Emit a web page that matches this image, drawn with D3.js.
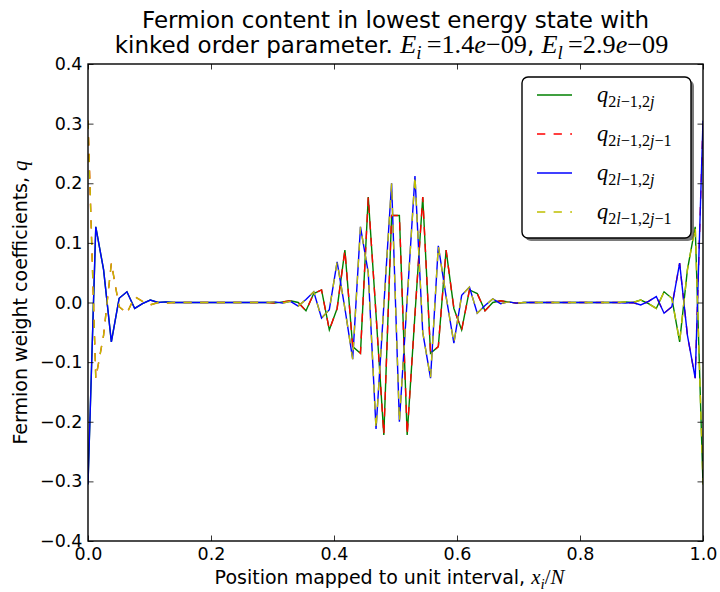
<!DOCTYPE html>
<html><head><meta charset="utf-8">
<script src="https://cdn.jsdelivr.net/npm/d3@7"></script>
<style>body{margin:0;background:#fff;} svg{display:block;}</style>
</head><body><svg id="c" width="720" height="592"></svg>
<script>
// ---------------- data ----------------
const xTicks = [0.0, 0.2, 0.4, 0.6, 0.8, 1.0];
const yTicks = [-0.4, -0.3, -0.2, -0.1, 0.0, 0.1, 0.2, 0.3, 0.4];
const nSites = 80;
const positions = d3.range(nSites).map(i => i / (nSites - 1));

// q_{2i-1,2j}  (green, solid)
const qI2j = [
  -0.305, 0.127, 0.055, -0.066, 0.007, 0.018, -0.010, -0.002, 0.004, 0.000,
   0.001, 0, 0, 0, 0, 0, 0, 0, 0, 0,
   0, 0, 0, 0, -0.001, 0.001, 0.003, 0.000, -0.014, 0.015,
   0.021, -0.046, -0.010, 0.088, -0.074, -0.085, 0.177, -0.020, -0.222, 0.146,
   0.146, -0.222, -0.020, 0.177, -0.085, -0.074, 0.088, -0.010, -0.046, 0.021,
   0.015, -0.014, 0.000, 0.003, 0.001, -0.001, 0, 0, 0, 0,
   0, 0, 0, 0, 0, 0, 0, 0, 0, 0.001,
   0.000, 0.004, -0.002, -0.010, 0.018, 0.007, -0.066, 0.055, 0.127, -0.305
];
// q_{2i-1,2j-1}  (red, dashed)
const qI2jm1 = [
   0.305, -0.127, -0.055, 0.066, -0.007, -0.018, 0.010, 0.002, -0.004, 0.000,
  -0.001, 0, 0, 0, 0, 0, 0, 0, 0, 0,
   0, 0, 0, 0, -0.001, 0.001, 0.003, 0.000, -0.014, 0.015,
   0.021, -0.046, -0.010, 0.088, -0.074, -0.085, 0.177, -0.020, -0.222, 0.146,
   0.146, -0.222, -0.020, 0.177, -0.085, -0.074, 0.088, -0.010, -0.046, 0.021,
   0.015, -0.014, 0.000, 0.003, 0.001, -0.001, 0, 0, 0, 0,
   0, 0, 0, 0, 0, 0, 0, 0, 0, -0.001,
   0.000, -0.004, 0.002, 0.010, -0.018, -0.007, 0.066, -0.055, -0.127, 0.305
];
// q_{2l-1,2j}  (blue, solid)
const qL2j = [
  -0.305, 0.127, 0.055, -0.066, 0.007, 0.018, -0.010, -0.002, 0.004, 0.000,
   0.001, 0, 0, 0, 0, 0, 0, 0, 0, 0,
   0, 0, 0, 0, 0.001, -0.001, 0.002, -0.006, 0.005, 0.018,
  -0.026, -0.012, 0.068, -0.010, -0.095, 0.127, 0.050, -0.212, -0.005, 0.200,
  -0.200, 0.005, 0.212, -0.050, -0.127, 0.095, 0.010, -0.068, 0.012, 0.026,
  -0.018, -0.005, 0.006, -0.002, 0.001, -0.001, 0, 0, 0, 0,
   0, 0, 0, 0, 0, 0, 0, 0, 0, -0.001,
   0.000, -0.004, 0.002, 0.010, -0.018, -0.007, 0.066, -0.055, -0.127, 0.305
];
// q_{2l-1,2j-1}  (yellow, dashed)
const qL2jm1 = [
   0.305, -0.127, -0.055, 0.066, -0.007, -0.018, 0.010, 0.002, -0.004, 0.000,
  -0.001, 0, 0, 0, 0, 0, 0, 0, 0, 0,
   0, 0, 0, 0, 0.001, -0.001, 0.002, -0.006, 0.005, 0.018,
  -0.026, -0.012, 0.068, -0.010, -0.095, 0.127, 0.050, -0.212, -0.005, 0.200,
  -0.200, 0.005, 0.212, -0.050, -0.127, 0.095, 0.010, -0.068, 0.012, 0.026,
  -0.018, -0.005, 0.006, -0.002, 0.001, -0.001, 0, 0, 0, 0,
   0, 0, 0, 0, 0, 0, 0, 0, 0, 0.001,
   0.000, 0.004, -0.002, -0.010, 0.018, 0.007, -0.066, 0.055, 0.127, -0.305
];

const seriesNames = ["q2i-1,2j", "q2i-1,2j-1", "q2l-1,2j", "q2l-1,2j-1"];
const seriesValues = [qI2j, qI2jm1, qL2j, qL2jm1];
const seriesColors = ["#008000", "#ff0000", "#0000ff", "#bfbf00"];
const seriesDashed = [false, true, false, true];
const legendLabels = [
  [{t:"q",i:1},{t:"2",s:1},{t:"i",i:1,s:1},{t:"\u2212",s:1},{t:"1,2",s:1},{t:"j",i:1,s:1}],
  [{t:"q",i:1},{t:"2",s:1},{t:"i",i:1,s:1},{t:"\u2212",s:1},{t:"1,2",s:1},{t:"j",i:1,s:1},{t:"\u2212",s:1},{t:"1",s:1}],
  [{t:"q",i:1},{t:"2",s:1},{t:"l",i:1,s:1},{t:"\u2212",s:1},{t:"1,2",s:1},{t:"j",i:1,s:1}],
  [{t:"q",i:1},{t:"2",s:1},{t:"l",i:1,s:1},{t:"\u2212",s:1},{t:"1,2",s:1},{t:"j",i:1,s:1},{t:"\u2212",s:1},{t:"1",s:1}]
];

// ---------------- layout ----------------
const svg = d3.select("#c");
const L = 88, R = 703, T = 64, B = 541;
const x = d3.scaleLinear().domain([0, 1]).range([L, R]);
const y = d3.scaleLinear().domain([-0.4, 0.4]).range([B, T]);
const SANS = "DejaVu Sans";
const SERIF = "Liberation Serif";
const tickFont = 17.5;
const labelFont = 19;

function addMath(textSel, parts, size, serifScale) {
  let cur = 0;
  const sc = serifScale || 1.1;
  parts.forEach(p => {
    const off = p.s ? size * 0.24 : 0;
    const fam = p.f || SERIF;
    const fs = (p.s ? size * 0.72 : size) * (fam === SERIF ? sc : 1);
    textSel.append("tspan")
      .attr("dy", (off - cur).toFixed(2))
      .attr("font-family", fam)
      .attr("font-style", p.i ? "italic" : "normal")
      .attr("font-size", fs.toFixed(2))
      .text(p.t);
    cur = off;
  });
}

svg.append("defs").append("clipPath").attr("id", "clip")
  .append("rect").attr("x", L).attr("y", T).attr("width", R - L).attr("height", B - T);

// lines
const line = d3.line().x((d, i) => x(positions[i])).y(d => y(d));
const plot = svg.append("g").attr("clip-path", "url(#clip)");
seriesValues.forEach((vals, k) => {
  plot.append("path")
    .datum(vals)
    .attr("d", line)
    .attr("fill", "none")
    .attr("stroke", seriesColors[k])
    .attr("stroke-width", 1.4)
    .attr("stroke-dasharray", seriesDashed[k] ? "8.3,8.3" : null);
});

// axes
const tick = 5.5;
const fmt = d3.format(".1f");
const gB = svg.append("g").attr("transform", `translate(0,${B})`)
  .call(d3.axisBottom(x).tickValues(xTicks).tickFormat(fmt).tickSizeInner(-tick).tickSizeOuter(0).tickPadding(6.5));
const gT = svg.append("g").attr("transform", `translate(0,${T})`)
  .call(d3.axisTop(x).tickValues(xTicks).tickFormat("").tickSizeInner(-tick).tickSizeOuter(0));
const gL = svg.append("g").attr("transform", `translate(${L},0)`)
  .call(d3.axisLeft(y).tickValues(yTicks).tickFormat(fmt).tickSizeInner(-tick).tickSizeOuter(0).tickPadding(5.5));
const gR = svg.append("g").attr("transform", `translate(${R},0)`)
  .call(d3.axisRight(y).tickValues(yTicks).tickFormat("").tickSizeInner(-tick).tickSizeOuter(0));
[gB, gT, gL, gR].forEach(g => {
  g.select(".domain").remove();
  g.selectAll(".tick line").attr("stroke", "#000").attr("stroke-width", 0.8);
  g.selectAll("text").attr("font-family", SANS).attr("font-size", tickFont).attr("fill", "#000");
});

// frame
svg.append("rect").attr("x", L).attr("y", T).attr("width", R - L).attr("height", B - T)
  .attr("fill", "none").attr("stroke", "#000").attr("stroke-width", 1.4);

// title
svg.append("text").attr("x", (L + R) / 2).attr("y", 28).attr("text-anchor", "middle")
  .attr("font-family", SANS).attr("font-size", 23).text("Fermion content in lowest energy state with");
const t2 = svg.append("text").attr("x", (L + R) / 2 - 4).attr("y", 53).attr("text-anchor", "middle");
addMath(t2, [
  {t:"kinked order parameter. ", f:SANS},
  {t:"E",i:1},{t:"i",i:1,s:1},{t:"\u2009="},{t:"1.4"},{t:"e",i:1},{t:"\u2212"},{t:"09"},
  {t:", ", f:SANS},
  {t:"E",i:1},{t:"l",i:1,s:1},{t:"\u2009="},{t:"2.9"},{t:"e",i:1},{t:"\u2212"},{t:"09"}
], 23, 1.14);

// axis labels
const xl = svg.append("text").attr("x", (L + R) / 2 - 6).attr("y", 584).attr("text-anchor", "middle");
addMath(xl, [
  {t:"Position mapped to unit interval, ", f:SANS},
  {t:"x",i:1},{t:"i",i:1,s:1},{t:"/"},{t:"N",i:1}
], labelFont);
const yl = svg.append("text").attr("transform", `translate(27,${(T + B) / 2}) rotate(-90)`).attr("text-anchor", "middle");
addMath(yl, [
  {t:"Fermion weight coefficients, ", f:SANS},
  {t:"q",i:1}
], labelFont);

// legend
const lg = svg.append("g");
const LX = 522, LY = 77, LW = 169, LH = 161;
lg.append("rect").attr("x", LX + 3).attr("y", LY + 3).attr("width", LW).attr("height", LH)
  .attr("rx", 6).attr("fill", "#4d4d4d").attr("opacity", 0.75);
lg.append("rect").attr("x", LX).attr("y", LY).attr("width", LW).attr("height", LH)
  .attr("rx", 6).attr("fill", "#fff").attr("stroke", "#000").attr("stroke-width", 1.4);
const rowY = d3.scalePoint().domain(d3.range(seriesNames.length)).range([95, 212]);
seriesNames.forEach((nm, k) => {
  const yy = rowY(k);
  lg.append("line").attr("x1", 537).attr("x2", 572).attr("y1", yy).attr("y2", yy)
    .attr("stroke", seriesColors[k]).attr("stroke-width", 1.4)
    .attr("stroke-dasharray", seriesDashed[k] ? "8.3,8.3" : null);
  const tx = lg.append("text").attr("x", 597).attr("y", yy + 7);
  addMath(tx, legendLabels[k], 20, 1.12);
});
</script></body></html>
